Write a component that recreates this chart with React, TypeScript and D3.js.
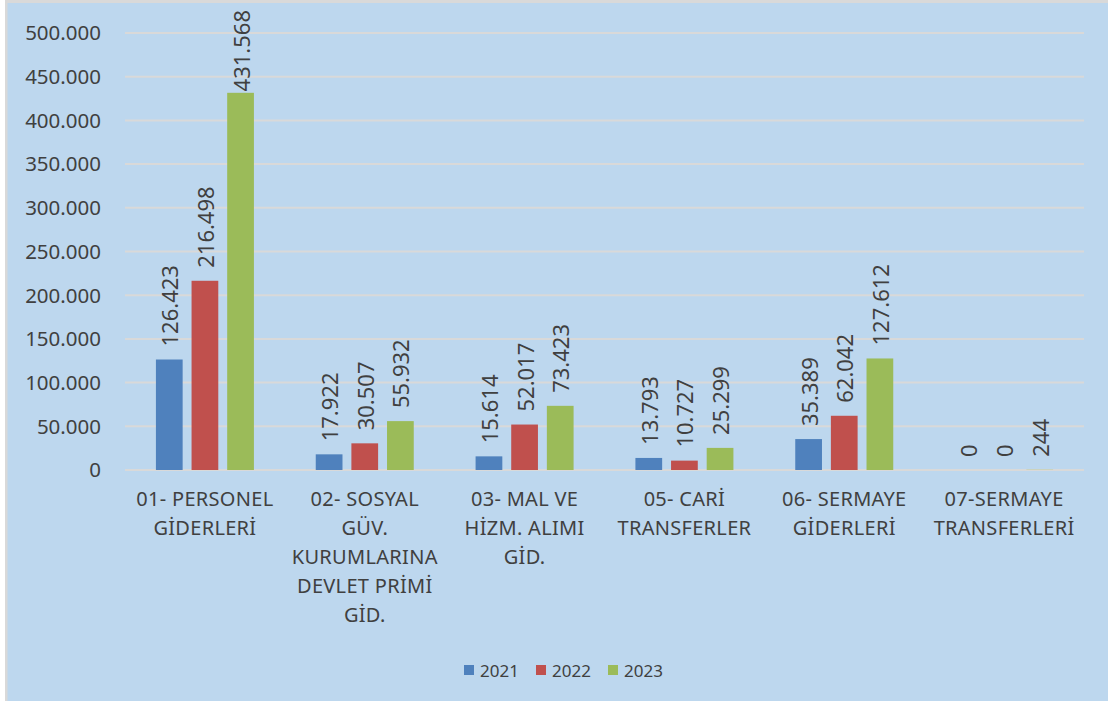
import { scaleBand, scaleLinear } from 'd3';

const width = 1108;
const height = 701;
const margin = { top: 33, right: 24, bottom: 231, left: 125 };

const categories = [
	'01- PERSONEL GİDERLERİ',
	'02- SOSYAL GÜV. KURUMLARINA DEVLET PRİMİ GİD.',
	'03- MAL VE HİZM. ALIMI GİD.',
	'05- CARİ TRANSFERLER',
	'06- SERMAYE GİDERLERİ',
	'07-SERMAYE TRANSFERLERİ',
];
const categoryLines = [
	['01- PERSONEL', 'GİDERLERİ'],
	['02- SOSYAL', 'GÜV.', 'KURUMLARINA', 'DEVLET PRİMİ', 'GİD.'],
	['03- MAL VE', 'HİZM. ALIMI', 'GİD.'],
	['05- CARİ', 'TRANSFERLER'],
	['06- SERMAYE', 'GİDERLERİ'],
	['07-SERMAYE', 'TRANSFERLERİ'],
];
const years = ['2021', '2022', '2023'];
const values2021 = [126423, 17922, 15614, 13793, 35389, 0];
const values2022 = [216498, 30507, 52017, 10727, 62042, 0];
const values2023 = [431568, 55932, 73423, 25299, 127612, 244];
const yTicks = [0, 50000, 100000, 150000, 200000, 250000, 300000, 350000, 400000, 450000, 500000];
const colors = ['#4F81BD', '#C0504D', '#9BBB59'];

const series = [values2021, values2022, values2023];
const fmt = (v: number) => v.toLocaleString('de-DE');
const font = "'Noto Sans', 'Open Sans', sans-serif";
const textColor = '#404040';
const labelSize = 22;

const App = () => {
	const innerWidth = width - margin.left - margin.right;
	const innerHeight = height - margin.top - margin.bottom;

	const xScale = scaleBand().domain(categories).range([0, innerWidth]);
	const groupWidth = 98;
	const x1 = scaleBand().domain(years).range([0, groupWidth]).paddingInner(0.25);
	const yScale = scaleLinear().domain([0, 500000]).range([innerHeight, 0]);

	// rough label length so tall bars keep their label inside the chart
	const labelLen = (s: string) =>
		s.replace(/\./g, '').length * 0.572 * labelSize + (s.includes('.') ? 0.268 * labelSize : 0);

	return (
		<svg
			width={width}
			height={height}
			style={{ position: 'absolute', left: 0, top: 0 }}
			fontFamily={font}
		>
			<rect x={5} y={0} width={width - 5} height={height} fill="#D9D9D9" />
			<rect x={7.5} y={3} width={width - 7.5} height={height - 3} fill="#BDD7EE" />
			<g transform={`translate(${margin.left},${margin.top})`}>
				{yTicks.map(t => (
					<g key={t} transform={`translate(0,${yScale(t)})`}>
						<line x2={innerWidth} stroke="#D9D9D9" strokeWidth={2} />
						<text
							x={-24}
							dy="0.36em"
							textAnchor="end"
							fontSize={20.5}
							fill={textColor}
						>
							{fmt(t)}
						</text>
					</g>
				))}
				{categories.map((c, i) => {
					const cx = (xScale(c) as number) + xScale.bandwidth() / 2;
					return (
						<g key={c}>
							{series.map((s, j) => {
								const bx = cx - groupWidth / 2 + (x1(years[j]) as number);
								const by = yScale(s[i]);
								const lx = bx + x1.bandwidth() / 2;
								const label = fmt(s[i]);
								const ly = Math.max(by - 13, -margin.top + 8 + labelLen(label) + 2);
								return (
									<g key={j}>
										<rect
											x={bx}
											y={by}
											width={x1.bandwidth()}
											height={innerHeight - by}
											fill={colors[j]}
										/>
										<text
											transform={`translate(${lx},${ly}) rotate(-90)`}
											dominantBaseline="central"
											fontSize={labelSize}
											fill={textColor}
										>
											{label}
										</text>
									</g>
								);
							})}
							<text
								textAnchor="middle"
								fontSize={20}
								fill={textColor}
								letterSpacing={0.3}
							>
								{categoryLines[i].map((l, k) => (
									<tspan key={k} x={cx} y={innerHeight + 36 + k * 29}>
										{l}
									</tspan>
								))}
							</text>
						</g>
					);
				})}
			</g>
			<g transform="translate(464,0)">
				{years.map((y, j) => (
					<g key={y} transform={`translate(${j * 72},0)`}>
						<rect x={0} y={665} width={10} height={10} fill={colors[j]} />
						<text x={16} y={677} fontSize={17} fill={textColor}>
							{y}
						</text>
					</g>
				))}
			</g>
		</svg>
	);
};

export default App;
